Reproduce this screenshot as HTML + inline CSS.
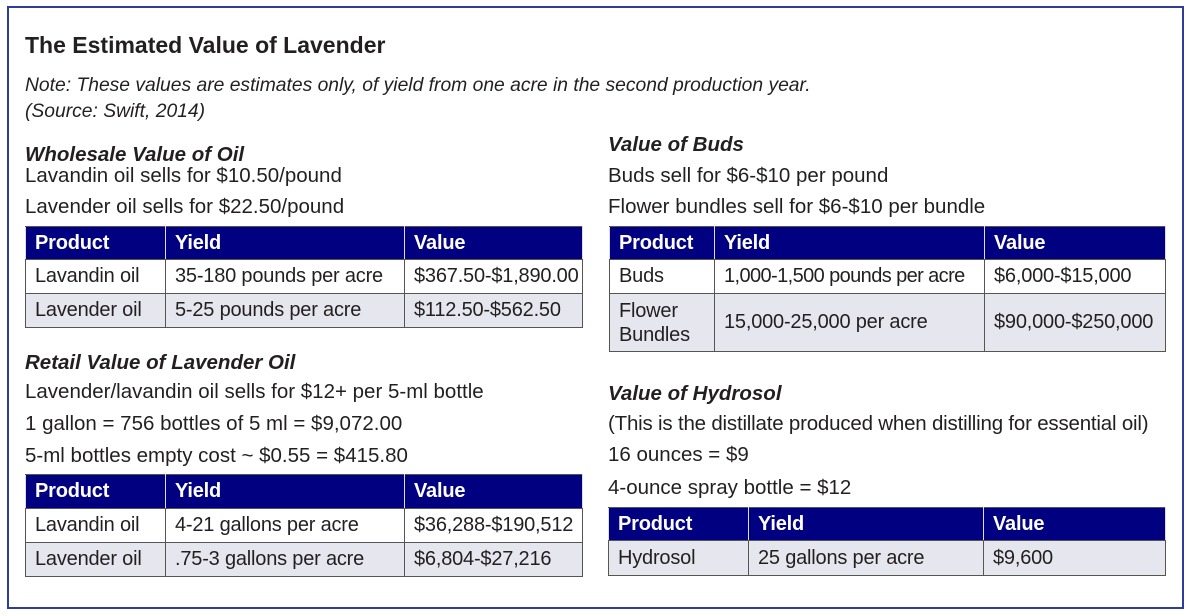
<!DOCTYPE html>
<html><head><meta charset="utf-8"><style>
body{margin:0;width:1200px;height:616px;background:#fff;position:relative;overflow:hidden;font-family:"Liberation Sans",sans-serif;color:#231f20}
.box{position:absolute;left:7px;top:6px;width:1173px;height:599px;border:2px solid #2c3d9c}
.t{position:absolute;white-space:nowrap;font-size:20.5px;letter-spacing:0;line-height:22px}
.h{font-weight:bold;font-style:italic}
.i{font-style:italic;font-size:19.3px}
table{position:absolute;border-collapse:collapse;font-size:20px;letter-spacing:-0.2px;table-layout:fixed}
td,th{border:1.5px solid #555;padding:0 0 0 9px;text-align:left;white-space:nowrap;overflow:hidden}
th{background:#000080;color:#fff;font-weight:bold;border-color:#555 #ddd #555 #ddd}
tr.g td{background:#e6e7ee}
</style></head><body>
<div class="box"></div>
<div class="t" style="left:25px;top:34px;font-size:23px;font-weight:bold">The Estimated Value of Lavender</div>
<div class="t i" style="left:25px;top:75px">Note: These values are estimates only, of yield from one acre in the second production year.</div>
<div class="t i" style="left:25px;top:101px">(Source: Swift, 2014)</div>

<div class="t h" style="left:25px;top:144px">Wholesale Value of Oil</div>
<div class="t" style="left:25px;top:165px">Lavandin oil sells for $10.50/pound</div>
<div class="t" style="left:25px;top:196px">Lavender oil sells for $22.50/pound</div>
<table style="left:25px;top:226px;width:558px">
<colgroup><col style="width:140px"><col style="width:239px"><col></colgroup>
<tr style="height:33px"><th>Product</th><th>Yield</th><th>Value</th></tr>
<tr style="height:34px"><td>Lavandin oil</td><td>35-180 pounds per acre</td><td>$367.50-$1,890.00</td></tr>
<tr class="g" style="height:34px"><td>Lavender oil</td><td>5-25 pounds per acre</td><td>$112.50-$562.50</td></tr>
</table>

<div class="t h" style="left:25px;top:352px">Retail Value of Lavender Oil</div>
<div class="t" style="left:25px;top:381px">Lavender/lavandin oil sells for $12+ per 5-ml bottle</div>
<div class="t" style="left:25px;top:413px">1 gallon = 756 bottles of 5 ml = $9,072.00</div>
<div class="t" style="left:25px;top:445px">5-ml bottles empty cost ~ $0.55 = $415.80</div>
<table style="left:25px;top:474px;width:558px">
<colgroup><col style="width:140px"><col style="width:239px"><col></colgroup>
<tr style="height:34px"><th>Product</th><th>Yield</th><th>Value</th></tr>
<tr style="height:34px"><td>Lavandin oil</td><td>4-21 gallons per acre</td><td>$36,288-$190,512</td></tr>
<tr class="g" style="height:34px"><td>Lavender oil</td><td>.75-3 gallons per acre</td><td>$6,804-$27,216</td></tr>
</table>

<div class="t h" style="left:608px;top:134px">Value of Buds</div>
<div class="t" style="left:608px;top:165px">Buds sell for $6-$10 per pound</div>
<div class="t" style="left:608px;top:196px">Flower bundles sell for $6-$10 per bundle</div>
<table style="left:609px;top:226px;width:557px">
<colgroup><col style="width:105px"><col style="width:270px"><col></colgroup>
<tr style="height:33px"><th>Product</th><th>Yield</th><th>Value</th></tr>
<tr style="height:34px"><td>Buds</td><td style="letter-spacing:-0.6px">1,000-1,500 pounds per acre</td><td>$6,000-$15,000</td></tr>
<tr class="g" style="height:58px"><td style="line-height:24px">Flower<br>Bundles</td><td>15,000-25,000 per acre</td><td>$90,000-$250,000</td></tr>
</table>

<div class="t h" style="left:608px;top:383px">Value of Hydrosol</div>
<div class="t" style="left:608px;top:413px;letter-spacing:-0.2px">(This is the distillate produced when distilling for essential oil)</div>
<div class="t" style="left:608px;top:444px">16 ounces = $9</div>
<div class="t" style="left:608px;top:477px">4-ounce spray bottle = $12</div>
<table style="left:608px;top:507px;width:558px">
<colgroup><col style="width:140px"><col style="width:235px"><col></colgroup>
<tr style="height:33px"><th>Product</th><th>Yield</th><th>Value</th></tr>
<tr class="g" style="height:35px"><td>Hydrosol</td><td>25 gallons per acre</td><td>$9,600</td></tr>
</table>
</body></html>
